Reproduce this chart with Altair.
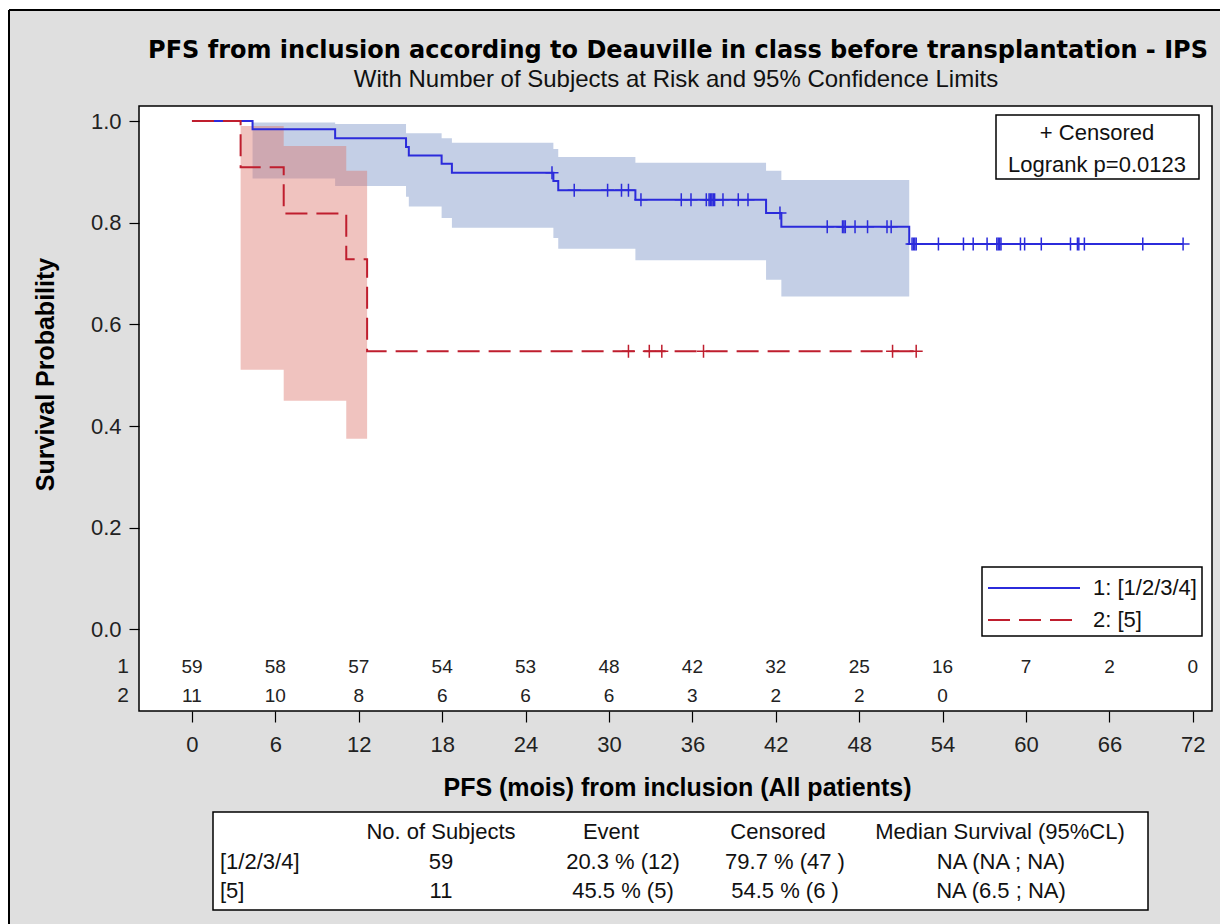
import altair as alt
import pandas as pd

FONT = "Liberation Sans, Arial, Helvetica, sans-serif"
TITLE_FONT = "DejaVu Sans, Verdana, sans-serif"

# ---------------- data ----------------
g1_time = [0, 4.36, 10.3, 15.4, 15.6, 17.96, 18.7, 26.0, 26.35, 31.9, 41.3, 42.4, 51.6, 71.3]
g1_surv = [1.0, 0.984, 0.966, 0.949, 0.932, 0.916, 0.898, 0.882, 0.864, 0.845, 0.819, 0.792, 0.758, 0.758]
g2_time = [0, 3.5, 6.6, 11.1, 12.6, 52.1]
g2_surv = [1.0, 0.909, 0.818, 0.728, 0.547, 0.547]

g1_band_time = [4.36, 10.3, 15.4, 15.6, 17.96, 18.7, 26.0, 26.35, 31.9, 41.3, 42.4, 51.6]
g1_band_lo = [0.887, 0.872, 0.851, 0.832, 0.809, 0.790, 0.770, 0.749, 0.726, 0.688, 0.655, 0.655]
g1_band_hi = [0.997, 0.994, 0.976, 0.976, 0.966, 0.957, 0.945, 0.929, 0.918, 0.902, 0.884, 0.884]
g2_band_time = [3.5, 6.6, 11.1, 12.6]
g2_band_lo = [0.511, 0.450, 0.375, 0.375]
g2_band_hi = [0.990, 0.951, 0.902, 0.902]

g1_censor = [25.9, 27.5, 29.9, 30.9, 31.4, 32.3, 35.2, 35.9, 37.0, 37.2, 37.3, 37.4, 37.5,
             37.6, 38.2, 39.3, 40.0, 42.3, 45.7, 46.8, 46.9, 47.0, 47.7, 48.6, 50.0, 50.3,
             51.8, 51.9, 52.0, 52.1, 53.7, 55.5, 56.2, 57.2, 57.9, 58.0, 58.1, 58.2, 59.6,
             59.9, 61.1, 63.2, 63.7, 63.8, 64.2, 68.4, 71.3]
g2_censor = [31.4, 32.9, 33.8, 36.8, 50.4, 52.1]

risk_time = [0, 6, 12, 18, 24, 30, 36, 42, 48, 54, 60, 66, 72]
risk_g1 = [59, 58, 57, 54, 53, 48, 42, 32, 25, 16, 7, 2, 0]
risk_g2 = [11, 10, 8, 6, 6, 6, 3, 2, 2, 0]
risk_rows = ["1", "2"]

x_ticks = [0, 6, 12, 18, 24, 30, 36, 42, 48, 54, 60, 66, 72]
y_ticks = [0.0, 0.2, 0.4, 0.6, 0.8, 1.0]

legend_labels = ["1: [1/2/3/4]", "2: [5]"]
inset_lines = ["+ Censored", "Logrank p=0.0123"]

tbl_headers = ["No. of Subjects", "Event", "Censored", "Median Survival (95%CL)"]
tbl_groups = ["[1/2/3/4]", "[5]"]
tbl_n = ["59", "11"]
tbl_event = ["20.3 % (12)", "45.5 % (5)"]
tbl_cens = ["79.7 % (47 )", "54.5 % (6 )"]
tbl_median = ["NA (NA ; NA)", "NA (6.5 ; NA)"]

title_text = "PFS from inclusion according to Deauville in class before transplantation - IPS"
subtitle_text = "With Number of Subjects at Risk and 95% Confidence Limits"

# ---------------- styling / layout ----------------
BLUE = "#2b2bdb"
RED = "#bf1e2e"
BLUE_BAND = "#c4cfe6"
RED_BAND = "#dc746b"
W, H = 1073, 605
XDOM = [-3.81, 73.38]
YDOM = [-0.1603, 1.0295]
RISK_Y = [-0.0747, -0.1316]

xs = alt.Scale(domain=XDOM, nice=False, zero=False)
ys = alt.Scale(domain=YDOM, nice=False, zero=False)

x_axis = alt.Axis(values=x_ticks, title="PFS (mois) from inclusion (All patients)",
                  grid=False, domain=False, tickSize=11, tickColor="black", tickWidth=1.2,
                  labelFontSize=22, labelFont=FONT, labelColor="#222", labelPadding=12,
                  labelFlush=False, titleFont=FONT, titleFontSize=25, titleFontWeight="bold",
                  titleColor="black", titleX=538, titleY=76, titleBaseline="middle",
                  titleAlign="center")
y_axis = alt.Axis(values=y_ticks, format=".1f", title="Survival Probability",
                  grid=False, domain=False, tickSize=10, tickColor="black", tickWidth=1.2,
                  labelFontSize=22, labelFont=FONT, labelColor="#222", labelPadding=8,
                  labelFlush=False, titleFont=FONT, titleFontSize=25, titleFontWeight="bold",
                  titleColor="black", titleAngle=270, titleX=-94, titleY=268,
                  titleBaseline="middle", titleAlign="center")


def X(field):
    return alt.X(field, type="quantitative", scale=xs, axis=x_axis)


def Y(field):
    return alt.Y(field, type="quantitative", scale=ys, axis=y_axis)


def step_value(times, survs, t):
    v = survs[0]
    for tt, s in zip(times, survs):
        if tt <= t:
            v = s
    return v


one = pd.DataFrame({"a": [0]})

layers = []

# outer page border (white margin + black frame line)
layers.append(alt.Chart(one).mark_rect(fill="white", strokeWidth=0)
              .encode(x=alt.value(-139), x2=alt.value(1081), y=alt.value(-106), y2=alt.value(-96)))
layers.append(alt.Chart(one).mark_rect(fill="white", strokeWidth=0)
              .encode(x=alt.value(-139), x2=alt.value(-130), y=alt.value(-106), y2=alt.value(818)))
layers.append(alt.Chart(one).mark_rule(color="black", strokeWidth=2)
              .encode(x=alt.value(-130), x2=alt.value(1081), y=alt.value(-96)))
layers.append(alt.Chart(one).mark_rule(color="black", strokeWidth=2)
              .encode(x=alt.value(-130), y=alt.value(-96), y2=alt.value(818)))

# titles
layers.append(alt.Chart(one).mark_text(text=title_text, fontSize=24, fontWeight="bold",
                                       font=TITLE_FONT, color="black", align="center",
                                       baseline="middle")
              .encode(x=alt.value(539), y=alt.value(-55)))
layers.append(alt.Chart(one).mark_text(text=subtitle_text, fontSize=24, font=FONT,
                                       color="#111", align="center", baseline="middle")
              .encode(x=alt.value(537), y=alt.value(-26)))

# confidence bands
b1 = pd.DataFrame({"t": g1_band_time, "lo": g1_band_lo, "hi": g1_band_hi})
b2 = pd.DataFrame({"t": g2_band_time, "lo": g2_band_lo, "hi": g2_band_hi})
layers.append(alt.Chart(b1).mark_area(interpolate="step-after", color=BLUE_BAND, opacity=1)
              .encode(x=X("t"), y=Y("lo"), y2="hi"))
layers.append(alt.Chart(b2).mark_area(interpolate="step-after", color=RED_BAND, opacity=0.43)
              .encode(x=X("t"), y=Y("lo"), y2="hi"))

# survival curves
c1 = pd.DataFrame({"t": g1_time, "s": g1_surv})
c2 = pd.DataFrame({"t": g2_time, "s": g2_surv})
layers.append(alt.Chart(c1).mark_line(interpolate="step-after", color=BLUE, strokeWidth=2)
              .encode(x=X("t"), y=Y("s")))
layers.append(alt.Chart(c2).mark_line(interpolate="step-after", color=RED, strokeWidth=2,
                                      strokeDash=[22, 9])
              .encode(x=X("t"), y=Y("s")))

# censor marks
PLUS = "M-1,0L1,0M0,-1L0,1"
k1 = pd.DataFrame({"t": g1_censor, "s": [step_value(g1_time, g1_surv, t) for t in g1_censor]})
k2 = pd.DataFrame({"t": g2_censor, "s": [step_value(g2_time, g2_surv, t) for t in g2_censor]})
layers.append(alt.Chart(k1).mark_point(shape=PLUS, size=169, strokeWidth=1.5, color=BLUE,
                                       opacity=1, filled=False)
              .encode(x=X("t"), y=Y("s")))
layers.append(alt.Chart(k2).mark_point(shape=PLUS, size=169, strokeWidth=1.5, color=RED,
                                       opacity=1, filled=False)
              .encode(x=X("t"), y=Y("s")))

# number at risk
risk_df = pd.DataFrame({
    "t": risk_time + risk_time[:len(risk_g2)],
    "n": risk_g1 + risk_g2,
    "yy": [RISK_Y[0]] * len(risk_g1) + [RISK_Y[1]] * len(risk_g2),
})
layers.append(alt.Chart(risk_df).mark_text(fontSize=19, font=FONT, color="#222",
                                           baseline="middle")
              .encode(x=X("t"), y=Y("yy"), text="n:Q"))
row_df = pd.DataFrame({"lab": risk_rows, "yy": RISK_Y})
layers.append(alt.Chart(row_df).mark_text(fontSize=21, font=FONT, color="#222",
                                          align="right", baseline="middle")
              .encode(x=alt.value(-10), y=Y("yy"), text="lab:N"))

# inset box: censored + logrank
layers.append(alt.Chart(one).mark_rect(fill="white", stroke="black", strokeWidth=1.5)
              .encode(x=alt.value(857), x2=alt.value(1060), y=alt.value(9), y2=alt.value(73)))
for txt, yy in zip(inset_lines, [27, 59]):
    layers.append(alt.Chart(one).mark_text(text=txt, fontSize=22, font=FONT, color="#111",
                                           align="center", baseline="middle")
                  .encode(x=alt.value(958), y=alt.value(yy)))

# legend box
layers.append(alt.Chart(one).mark_rect(fill="white", stroke="black", strokeWidth=1.5)
              .encode(x=alt.value(843), x2=alt.value(1063), y=alt.value(461), y2=alt.value(530)))
layers.append(alt.Chart(one).mark_rule(color=BLUE, strokeWidth=2)
              .encode(x=alt.value(849), x2=alt.value(941), y=alt.value(482)))
layers.append(alt.Chart(one).mark_rule(color=RED, strokeWidth=2, strokeDash=[22, 9])
              .encode(x=alt.value(849), x2=alt.value(941), y=alt.value(514)))
for txt, yy in zip(legend_labels, [482, 514]):
    layers.append(alt.Chart(one).mark_text(text=txt, fontSize=22, font=FONT, color="#111",
                                           align="left", baseline="middle")
                  .encode(x=alt.value(954), y=alt.value(yy)))

# summary table below the plot
TBL_X0, TBL_X1, TBL_Y0, TBL_Y1 = 74, 1009, 706, 804
HEAD_X = [302, 472, 639, 861]
VAL_X = [302, 484, 646, 862]
ROW_Y = [726, 756, 785]
LAB_X = 81
layers.append(alt.Chart(one).mark_rect(fill="white", stroke="black", strokeWidth=1.5)
              .encode(x=alt.value(TBL_X0), x2=alt.value(TBL_X1),
                      y=alt.value(TBL_Y0), y2=alt.value(TBL_Y1)))
for txt, xx in zip(tbl_headers, HEAD_X):
    layers.append(alt.Chart(one).mark_text(text=txt, fontSize=22, font=FONT, color="#111",
                                           align="center", baseline="middle")
                  .encode(x=alt.value(xx), y=alt.value(ROW_Y[0])))
for i in range(2):
    yy = ROW_Y[i + 1]
    layers.append(alt.Chart(one).mark_text(text=tbl_groups[i], fontSize=22, font=FONT,
                                           color="#111", align="left", baseline="middle")
                  .encode(x=alt.value(LAB_X), y=alt.value(yy)))
    for txt, xx in zip([tbl_n[i], tbl_event[i], tbl_cens[i], tbl_median[i]], VAL_X):
        layers.append(alt.Chart(one).mark_text(text=txt, fontSize=22, font=FONT, color="#111",
                                               align="center", baseline="middle")
                      .encode(x=alt.value(xx), y=alt.value(yy)))

chart = alt.layer(*layers).properties(
    width=W, height=H,
    padding={"left": 139, "top": 106, "right": 8, "bottom": 213},
    autosize=alt.AutoSizeParams(type="none"),
    background="#dfdfdf",
).configure_view(fill="white", stroke="black", strokeWidth=1.5)

chart.save("out.html", embed_options={"renderer": "svg", "actions": False})
